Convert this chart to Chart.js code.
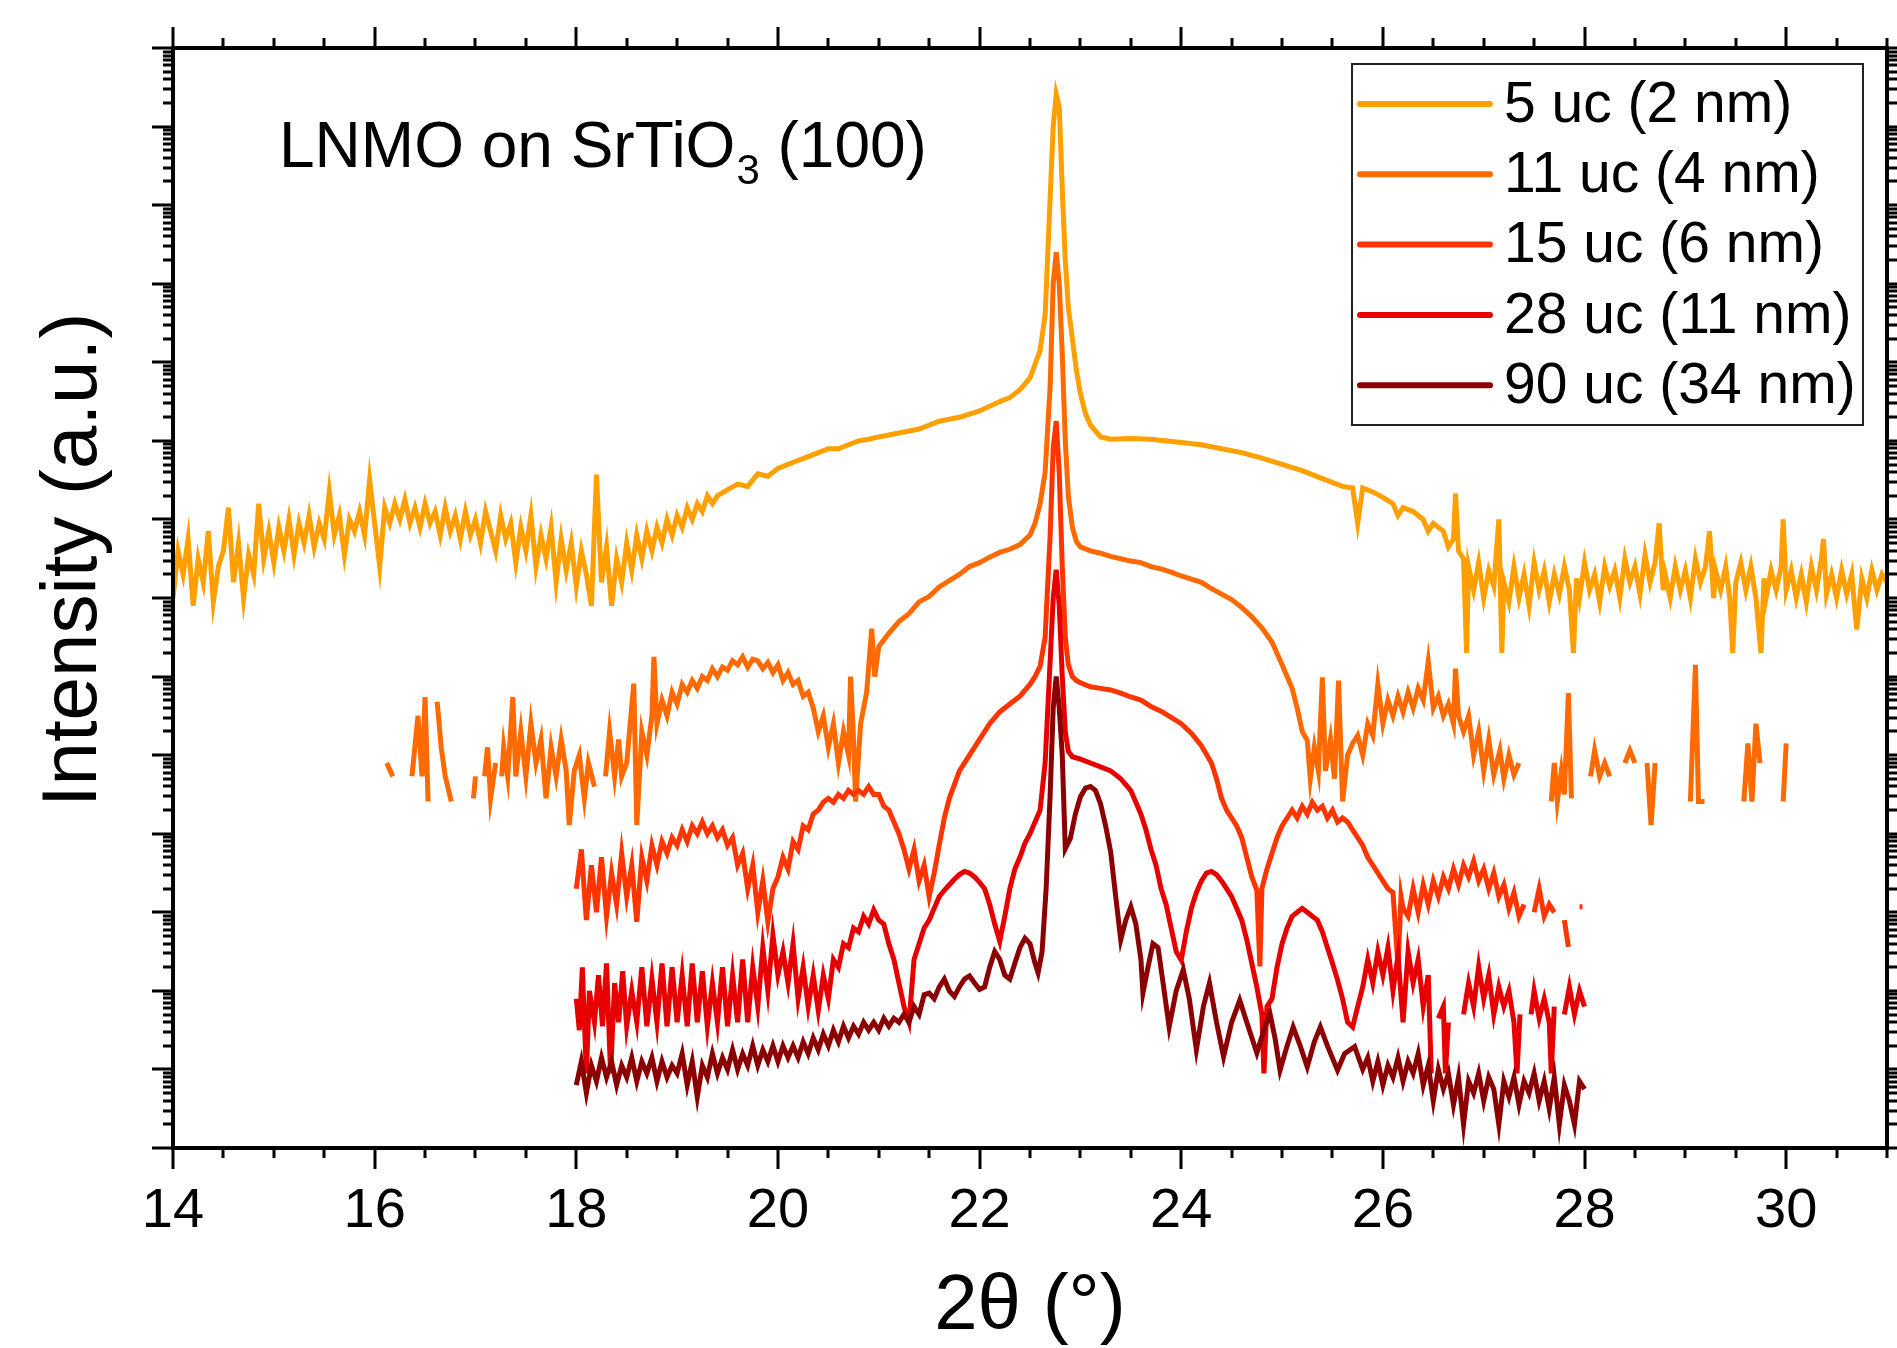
<!DOCTYPE html>
<html>
<head>
<meta charset="utf-8">
<script src="https://cdn.jsdelivr.net/npm/chart.js@4.4.1/dist/chart.umd.min.js"></script>
<style>
  html, body { margin: 0; padding: 0; background: #fff; }
  #wrap { width: 1897px; height: 1348px; position: relative; }
</style>
</head>
<body>
<div id="wrap"><canvas id="xrd"></canvas></div>
<script>
// 2theta (deg) vs log10(intensity)
const labels = ['5 uc (2 nm)', '11 uc (4 nm)', '15 uc (6 nm)', '28 uc (11 nm)', '90 uc (34 nm)'];
const colors = ['#ffa000', '#ff6a00', '#ff3500', '#e60000', '#8b0000'];

const uc5 = [
  [14.0,7.0],[14.05,7.6],[14.1,7.3],[14.15,7.75],[14.2,6.9],[14.25,7.5],[14.3,7.2],[14.35,7.85],[14.4,6.95],[14.45,7.4],
  [14.5,7.6],[14.55,8.15],[14.6,7.2],[14.65,7.7],[14.7,7.0],[14.75,7.55],[14.8,7.3],[14.85,8.2],[14.9,7.5],[14.95,7.85],
  [15.0,7.45],[15.05,7.9],[15.1,7.6],[15.15,8.0],[15.2,7.55],[15.25,7.95],[15.3,7.7],[15.35,8.05],[15.4,7.65],[15.45,7.95],
  [15.5,7.75],[15.55,8.35],[15.6,7.8],[15.65,8.05],[15.7,7.55],[15.75,8.0],[15.8,7.85],[15.85,8.1],[15.9,7.8],[15.95,8.5],
  [16.0,7.95],[16.05,7.4],[16.1,8.15],[16.15,7.95],[16.2,8.2],[16.25,8.0],[16.3,8.25],[16.35,7.95],[16.4,8.15],[16.45,7.9],
  [16.5,8.2],[16.55,7.95],[16.6,8.1],[16.65,7.8],[16.7,8.15],[16.75,7.85],[16.8,8.05],[16.85,7.75],[16.9,8.1],[16.95,7.8],
  [17.0,8.0],[17.05,7.7],[17.1,8.1],[17.15,7.85],[17.2,7.6],[17.25,8.05],[17.3,7.75],[17.35,7.95],[17.4,7.45],[17.45,7.9],
  [17.5,7.6],[17.55,8.05],[17.6,7.4],[17.65,7.8],[17.7,7.5],[17.75,7.9],[17.8,7.2],[17.85,7.75],[17.9,7.35],[17.95,7.7],
  [18.0,7.15],[18.05,7.6],[18.1,7.3],[18.15,6.9],[18.2,8.57],[18.25,7.2],[18.3,7.65],[18.35,6.9],[18.4,7.5],[18.45,7.2],
  [18.5,7.7],[18.55,7.35],[18.6,7.8],[18.65,7.5],[18.7,7.85],[18.75,7.6],[18.8,7.9],[18.85,7.7],[18.9,8.0],[18.95,7.8],
  [19.0,8.05],[19.05,7.9],[19.1,8.15],[19.15,8.0],[19.2,8.2],[19.25,8.1],[19.3,8.3],[19.35,8.2],[19.4,8.3],[19.5,8.38],
  [19.6,8.45],[19.7,8.42],[19.8,8.58],[19.9,8.55],[20.0,8.65],[20.1,8.7],[20.2,8.75],[20.3,8.8],[20.4,8.85],[20.5,8.9],
  [20.6,8.9],[20.7,8.95],[20.8,9.0],[20.9,9.02],[21.0,9.05],[21.2,9.1],[21.4,9.15],[21.6,9.25],[21.8,9.3],[22.0,9.38],
  [22.2,9.5],[22.3,9.55],[22.4,9.65],[22.5,9.8],[22.6,10.15],[22.65,10.6],[22.7,12.1],[22.73,13.0],[22.76,13.41],[22.79,13.25],
  [22.82,12.2],[22.85,11.3],[22.88,10.7],[22.92,10.3],[22.96,9.9],[23.0,9.6],[23.05,9.35],[23.1,9.2],[23.2,9.05],[23.3,9.02],
  [23.5,9.03],[23.7,9.02],[24.0,8.98],[24.2,8.95],[24.4,8.9],[24.6,8.85],[24.8,8.78],[25.0,8.7],[25.2,8.62],[25.4,8.52],
  [25.6,8.42],[25.7,8.4],[25.75,7.95],[25.8,8.4],[25.9,8.35],[26.0,8.28],[26.1,8.2],[26.15,8.05],[26.2,8.15],[26.3,8.1],
  [26.4,8.0],[26.45,7.85],[26.5,7.95],[26.6,7.85],[26.65,7.65],[26.7,7.75],[26.72,8.33],[26.75,7.6],[26.8,7.5],[26.83,6.3],
  [26.85,7.4],[26.9,7.1],[26.95,7.45],[27.0,7.0],[27.05,7.35],[27.1,7.15],[27.15,8.0],[27.18,6.3],[27.2,7.2],[27.25,6.95],
  [27.3,7.4],[27.35,7.0],[27.4,7.3],[27.45,6.9],[27.5,7.45],[27.55,7.1],[27.6,7.35],[27.65,6.95],[27.7,7.3],[27.75,7.05],
  [27.8,7.4],[27.85,7.1],[27.89,6.3],[27.92,7.25],[27.95,7.0],[28.0,7.45],[28.05,7.1],[28.1,7.3],[28.15,6.95],[28.2,7.4],
  [28.25,7.15],[28.3,7.35],[28.35,7.0],[28.4,7.5],[28.45,7.2],[28.5,7.4],[28.55,7.05],[28.6,7.55],[28.65,7.2],[28.7,7.45],
  [28.74,7.95],[28.78,7.1],[28.8,7.3],[28.85,7.0],[28.9,7.4],[28.95,7.1],[29.0,7.35],[29.05,7.0],[29.1,7.5],[29.15,7.2],
  [29.2,7.4],[29.24,7.85],[29.28,7.0],[29.3,7.35],[29.35,7.1],[29.4,7.4],[29.44,7.0],[29.47,6.3],[29.5,7.2],[29.55,7.45],
  [29.6,7.1],[29.65,7.4],[29.7,7.0],[29.75,6.3],[29.78,7.25],[29.8,7.0],[29.85,7.35],[29.9,7.1],[29.95,7.4],[29.97,8.0],
  [30.0,7.1],[30.05,7.35],[30.1,7.0],[30.15,7.3],[30.2,6.95],[30.25,7.4],[30.3,7.1],[30.35,7.5],[30.37,7.75],[30.4,7.05],
  [30.45,7.3],[30.5,7.0],[30.55,7.35],[30.6,7.05],[30.65,7.3],[30.7,6.6],[30.75,7.25],[30.8,7.0],[30.85,7.35],[30.9,7.1],
  [30.95,7.3],[31.0,7.2]
];

const uc11 = [
  [16.12,4.9],[16.18,4.73],[16.22,null],[16.37,4.73],[16.43,5.5],[16.47,4.73],[16.5,5.74],[16.53,4.41],[16.58,null],
  [16.62,5.68],[16.66,5.1],[16.7,4.73],[16.76,4.41],[16.8,null],[16.98,4.45],[17.0,4.73],[17.05,null],[17.09,4.73],
  [17.12,5.1],[17.15,4.45],[17.2,4.9],[17.23,null],[17.26,4.73],[17.28,5.1],[17.32,4.73],[17.37,5.74],[17.4,4.73],
  [17.45,5.3],[17.5,4.73],[17.55,5.4],[17.6,4.9],[17.65,5.2],[17.7,4.45],[17.75,5.1],[17.8,4.73],[17.85,5.2],
  [17.9,4.8],[17.93,4.11],[17.98,4.8],[18.03,5.0],[18.08,4.45],[18.12,4.9],[18.18,4.6],[18.22,null],[18.29,4.73],
  [18.33,5.3],[18.38,4.73],[18.42,5.2],[18.45,4.73],[18.5,4.9],[18.57,5.91],[18.6,4.11],[18.65,5.3],[18.7,5.0],
  [18.75,5.5],[18.77,6.25],[18.8,5.4],[18.85,5.7],[18.9,5.5],[18.95,5.8],[19.0,5.65],[19.05,5.9],[19.1,5.8],
  [19.15,5.95],[19.2,5.85],[19.25,6.0],[19.3,5.95],[19.35,6.1],[19.4,6.0],[19.45,6.12],[19.5,6.08],[19.55,6.2],[19.6,6.15],
  [19.65,6.25],[19.7,6.12],[19.75,6.22],[19.8,6.2],[19.85,6.1],[19.9,6.18],[19.95,6.05],[20.0,6.15],[20.05,5.95],[20.1,6.05],
  [20.15,5.9],[20.2,5.95],[20.25,5.75],[20.3,5.8],[20.35,5.6],[20.4,5.3],[20.45,5.5],[20.5,5.1],[20.55,5.4],
  [20.6,4.9],[20.65,5.3],[20.7,5.0],[20.72,6.0],[20.75,5.2],[20.77,4.41],[20.82,5.4],[20.88,5.8],[20.93,6.61],
  [20.96,6.0],[21.0,6.38],[21.1,6.55],[21.2,6.7],[21.3,6.8],[21.4,6.95],[21.5,7.02],[21.6,7.14],[21.7,7.22],
  [21.8,7.3],[21.9,7.4],[22.0,7.45],[22.1,7.52],[22.2,7.58],[22.3,7.62],[22.4,7.68],[22.5,7.8],[22.55,7.95],
  [22.6,8.2],[22.65,8.6],[22.7,9.7],[22.73,11.0],[22.76,11.4],[22.79,11.0],[22.82,10.1],[22.85,9.0],[22.88,8.3],
  [22.92,7.9],[22.96,7.72],[23.0,7.65],[23.1,7.6],[23.2,7.57],[23.3,7.53],[23.4,7.5],[23.5,7.47],[23.6,7.45],
  [23.7,7.4],[23.8,7.37],[23.9,7.33],[24.0,7.28],[24.1,7.24],[24.2,7.2],[24.3,7.12],[24.4,7.05],[24.5,6.98],
  [24.6,6.88],[24.7,6.76],[24.8,6.62],[24.9,6.44],[25.0,6.15],[25.1,5.85],[25.15,5.6],[25.2,5.3],[25.25,5.19],
  [25.28,4.7],[25.32,5.1],[25.36,4.8],[25.4,5.99],[25.43,4.8],[25.48,5.2],[25.52,4.7],[25.56,5.95],[25.6,4.41],
  [25.65,5.0],[25.7,5.15],[25.75,5.25],[25.8,5.0],[25.85,5.4],[25.9,5.25],[25.95,5.9],[26.0,5.4],[26.05,5.7],
  [26.1,5.5],[26.15,5.75],[26.2,5.55],[26.25,5.8],[26.3,5.6],[26.35,5.85],[26.4,5.7],[26.45,6.19],[26.5,5.6],
  [26.55,5.75],[26.6,5.5],[26.65,5.65],[26.7,5.4],[26.72,6.1],[26.75,5.5],[26.8,5.3],[26.85,5.5],[26.9,5.0],
  [26.95,5.3],[27.0,4.8],[27.05,5.2],[27.1,4.75],[27.16,5.06],[27.2,4.7],[27.25,5.0],[27.3,4.75],[27.35,4.9],
  [27.38,null],[27.67,4.41],[27.7,4.9],[27.73,4.41],[27.77,4.8],[27.8,4.5],[27.84,5.79],[27.87,4.45],[27.9,null],
  [28.06,4.73],[28.1,5.06],[28.15,4.73],[28.2,4.9],[28.25,4.73],[28.3,null],[28.4,4.9],[28.45,5.06],[28.5,4.9],
  [28.55,null],[28.62,4.9],[28.66,4.11],[28.7,4.9],[28.75,null],[28.88,4.73],[28.92,null],[29.05,4.41],[29.1,6.15],
  [29.13,4.41],[29.19,4.41],[29.22,null],[29.58,4.41],[29.62,5.15],[29.66,4.41],[29.7,5.4],[29.74,4.9],[29.77,null],
  [29.97,4.41],[30.0,5.15]
];

const uc15 = [
  [18.0,3.3],[18.05,3.8],[18.1,2.9],[18.15,3.6],[18.2,3.0],[18.25,3.7],[18.3,2.95],[18.35,3.5],[18.4,3.1],[18.45,3.75],
  [18.5,3.2],[18.55,3.6],[18.6,2.88],[18.65,3.7],[18.7,3.4],[18.75,3.85],[18.8,3.6],[18.85,3.9],[18.9,3.75],[18.95,3.95],
  [19.0,3.85],[19.05,4.05],[19.1,3.9],[19.15,4.1],[19.2,4.0],[19.25,4.15],[19.3,4.0],[19.35,4.1],[19.4,3.95],[19.45,4.05],
  [19.5,3.85],[19.55,3.95],[19.6,3.6],[19.65,3.75],[19.7,3.3],[19.75,3.6],[19.8,3.0],[19.85,3.4],[19.9,2.88],[19.95,3.3],
  [20.0,3.45],[20.05,3.7],[20.1,3.55],[20.15,3.9],[20.2,3.8],[20.25,4.1],[20.3,4.05],[20.35,4.25],[20.4,4.3],[20.45,4.4],
  [20.5,4.45],[20.55,4.4],[20.6,4.5],[20.65,4.45],[20.7,4.55],[20.75,4.5],[20.8,4.55],[20.85,4.5],[20.9,4.6],[20.95,4.5],
  [21.0,4.5],[21.05,4.35],[21.1,4.3],[21.15,4.15],[21.2,4.0],[21.25,3.8],[21.3,3.55],[21.35,3.8],[21.4,3.4],[21.45,3.6],
  [21.5,3.2],[21.55,3.5],[21.6,3.86],[21.65,4.2],[21.7,4.45],[21.8,4.8],[21.9,5.0],[22.0,5.2],[22.1,5.4],[22.2,5.55],
  [22.3,5.65],[22.4,5.75],[22.5,5.9],[22.55,6.0],[22.6,6.13],[22.65,6.5],[22.7,7.8],[22.73,8.9],[22.76,9.25],[22.79,8.6],
  [22.82,7.4],[22.85,6.5],[22.88,6.15],[22.92,6.0],[22.96,5.95],[23.0,5.92],[23.1,5.87],[23.2,5.85],[23.3,5.83],[23.4,5.79],
  [23.5,5.74],[23.6,5.7],[23.7,5.62],[23.8,5.56],[23.9,5.48],[24.0,5.4],[24.1,5.28],[24.2,5.12],[24.3,4.9],[24.35,4.7],
  [24.4,4.45],[24.45,4.3],[24.5,4.2],[24.55,4.1],[24.6,3.95],[24.65,3.7],[24.7,3.45],[24.75,3.28],[24.78,2.31],[24.8,3.3],
  [24.85,3.55],[24.9,3.75],[24.95,3.95],[25.0,4.1],[25.05,4.2],[25.1,4.3],[25.15,4.2],[25.2,4.35],[25.25,4.25],[25.3,4.4],
  [25.35,4.3],[25.4,4.35],[25.45,4.2],[25.5,4.3],[25.55,4.15],[25.6,4.2],[25.65,4.15],[25.7,4.05],[25.75,3.95],[25.8,3.85],
  [25.85,3.7],[25.9,3.6],[25.95,3.5],[26.0,3.4],[26.05,3.3],[26.1,3.25],[26.15,2.31],[26.18,3.2],[26.2,3.05],[26.25,2.95],
  [26.3,3.3],[26.35,3.0],[26.4,3.35],[26.45,3.1],[26.5,3.4],[26.55,3.2],[26.6,3.45],[26.65,3.3],[26.7,3.55],[26.75,3.35],
  [26.8,3.6],[26.85,3.45],[26.9,3.65],[26.95,3.4],[27.0,3.55],[27.05,3.3],[27.1,3.5],[27.15,3.2],[27.2,3.35],[27.25,3.05],
  [27.3,3.25],[27.35,2.95],[27.4,3.1],[27.45,null],[27.5,3.0],[27.55,3.3],[27.6,2.95],[27.65,3.1],[27.7,3.0],[27.75,null],
  [27.8,2.9],[27.84,2.56],[27.87,null],[27.95,3.07],[27.98,3.07]
];

const uc28 = [
  [18.0,1.9],[18.03,1.5],[18.06,2.3],[18.1,0.95],[18.13,2.0],[18.18,1.6],[18.22,2.2],[18.26,1.55],[18.3,2.35],[18.34,0.95],
  [18.38,2.1],[18.42,1.6],[18.46,2.25],[18.5,1.55],[18.55,2.0],[18.6,1.6],[18.65,2.3],[18.7,1.55],[18.75,2.15],[18.8,1.6],
  [18.85,2.35],[18.9,1.55],[18.95,2.3],[19.0,1.6],[19.05,2.2],[19.1,1.55],[19.15,2.35],[19.2,1.6],[19.25,2.25],[19.3,1.55],
  [19.35,2.1],[19.4,1.6],[19.45,2.3],[19.5,1.55],[19.55,2.2],[19.6,1.6],[19.65,2.4],[19.7,1.6],[19.75,2.3],[19.8,1.8],
  [19.85,2.55],[19.9,2.0],[19.95,2.71],[20.0,2.2],[20.05,2.5],[20.1,2.1],[20.15,2.6],[20.2,1.9],[20.25,2.3],[20.3,1.8],
  [20.35,2.2],[20.4,1.75],[20.45,2.2],[20.5,1.9],[20.55,2.4],[20.6,2.3],[20.65,2.6],[20.7,2.55],[20.75,2.8],[20.8,2.75],
  [20.85,2.95],[20.9,2.85],[20.95,3.03],[21.0,2.9],[21.05,2.85],[21.1,2.6],[21.15,2.4],[21.2,2.1],[21.25,1.8],[21.3,1.6],
  [21.35,2.4],[21.4,2.6],[21.45,2.8],[21.5,2.9],[21.55,3.05],[21.6,3.2],[21.65,3.28],[21.7,3.35],[21.75,3.42],[21.8,3.48],
  [21.85,3.52],[21.9,3.5],[21.95,3.45],[22.0,3.38],[22.05,3.3],[22.1,3.1],[22.15,2.85],[22.2,2.63],[22.25,2.95],[22.3,3.3],
  [22.35,3.55],[22.4,3.7],[22.45,3.88],[22.5,4.0],[22.55,4.15],[22.6,4.3],[22.65,4.9],[22.7,6.2],[22.73,7.0],[22.76,7.36],
  [22.79,6.9],[22.82,6.0],[22.85,5.3],[22.88,5.05],[22.92,4.98],[23.0,4.95],[23.1,4.9],[23.2,4.85],[23.3,4.8],[23.4,4.7],
  [23.5,4.55],[23.55,4.4],[23.6,4.25],[23.65,4.05],[23.7,3.8],[23.75,3.6],[23.8,3.3],[23.85,3.1],[23.9,2.8],[23.95,2.5],
  [24.0,2.39],[24.05,2.75],[24.1,3.05],[24.15,3.25],[24.2,3.4],[24.25,3.5],[24.3,3.52],[24.35,3.48],[24.4,3.4],[24.45,3.3],
  [24.5,3.2],[24.55,3.05],[24.6,2.9],[24.65,2.65],[24.7,2.35],[24.75,2.05],[24.8,1.7],[24.82,0.95],[24.85,1.8],[24.9,1.9],
  [24.95,2.3],[25.0,2.6],[25.05,2.8],[25.1,2.95],[25.15,3.0],[25.2,3.05],[25.25,3.0],[25.3,2.95],[25.35,2.9],[25.4,2.75],
  [25.45,2.55],[25.5,2.35],[25.55,2.14],[25.6,1.9],[25.65,1.6],[25.7,1.54],[25.75,1.8],[25.8,2.05],[25.85,2.4],[25.9,2.1],
  [25.95,2.5],[26.0,2.2],[26.05,2.55],[26.1,2.0],[26.15,2.45],[26.2,1.6],[26.25,2.5],[26.3,2.1],[26.35,2.4],[26.4,1.8],
  [26.45,2.2],[26.48,0.95],[26.5,null],[26.55,1.65],[26.6,1.8],[26.62,0.95],[26.65,1.6],[26.7,null],[26.8,1.7],[26.85,2.1],
  [26.9,1.8],[26.95,2.31],[27.0,1.9],[27.05,2.2],[27.1,1.7],[27.15,2.05],[27.2,1.8],[27.25,2.0],[27.3,1.6],[27.33,0.95],
  [27.36,1.7],[27.4,null],[27.47,1.7],[27.5,2.0],[27.55,1.65],[27.6,1.9],[27.65,1.6],[27.67,0.95],[27.7,1.8],[27.75,null],
  [27.8,1.7],[27.85,2.05],[27.9,1.7],[27.95,2.0],[28.0,1.8]
];

const uc90 = [
  [18.0,0.8],[18.05,1.1],[18.1,0.7],[18.15,1.05],[18.2,0.85],[18.25,1.15],[18.3,0.9],[18.35,1.1],[18.4,0.8],[18.45,1.05],
  [18.5,0.9],[18.55,1.15],[18.6,0.85],[18.65,1.1],[18.7,0.95],[18.75,1.15],[18.8,0.85],[18.85,1.1],[18.9,0.9],[18.95,1.05],
  [19.0,0.95],[19.05,1.2],[19.1,0.8],[19.15,1.1],[19.2,0.65],[19.25,1.05],[19.3,0.9],[19.35,1.2],[19.4,0.95],[19.45,1.15],
  [19.5,1.0],[19.55,1.25],[19.6,1.0],[19.65,1.2],[19.7,1.05],[19.75,1.3],[19.8,1.05],[19.85,1.25],[19.9,1.1],[19.95,1.3],
  [20.0,1.1],[20.05,1.3],[20.1,1.15],[20.15,1.3],[20.2,1.15],[20.25,1.35],[20.3,1.2],[20.35,1.4],[20.4,1.25],[20.45,1.45],
  [20.5,1.3],[20.55,1.5],[20.6,1.35],[20.65,1.55],[20.7,1.4],[20.75,1.55],[20.8,1.45],[20.85,1.6],[20.9,1.5],[20.95,1.6],
  [21.0,1.5],[21.05,1.65],[21.1,1.55],[21.15,1.65],[21.2,1.6],[21.25,1.7],[21.3,1.6],[21.35,1.8],[21.4,1.7],[21.45,1.95],
  [21.5,1.97],[21.55,1.9],[21.6,2.05],[21.65,2.15],[21.7,2.0],[21.75,1.93],[21.8,2.05],[21.85,2.15],[21.9,2.19],[21.95,2.1],
  [22.0,2.02],[22.05,2.05],[22.1,2.3],[22.15,2.5],[22.2,2.4],[22.25,2.2],[22.3,2.15],[22.35,2.35],[22.4,2.55],[22.45,2.67],
  [22.5,2.6],[22.55,2.35],[22.58,2.23],[22.62,2.5],[22.66,3.3],[22.7,4.5],[22.73,5.6],[22.76,6.0],[22.79,5.6],[22.82,5.0],
  [22.85,3.81],[22.9,3.94],[22.95,4.25],[23.0,4.47],[23.05,4.58],[23.1,4.6],[23.15,4.55],[23.2,4.38],[23.25,4.1],[23.3,3.77],
  [23.35,3.2],[23.4,2.65],[23.45,2.9],[23.5,3.07],[23.55,2.85],[23.6,2.4],[23.62,1.97],[23.67,2.3],[23.72,2.6],[23.77,2.55],
  [23.82,2.1],[23.88,1.54],[23.95,2.0],[24.02,2.27],[24.08,1.9],[24.15,1.25],[24.22,1.8],[24.28,2.1],[24.35,1.6],[24.42,1.16],
  [24.5,1.6],[24.58,1.88],[24.65,1.6],[24.75,1.21],[24.82,1.5],[24.88,1.71],[24.93,1.4],[24.98,0.99],[25.05,1.3],[25.11,1.54],
  [25.18,1.3],[25.25,1.03],[25.32,1.35],[25.38,1.54],[25.45,1.3],[25.55,0.99],[25.62,1.2],[25.72,1.29],[25.8,1.0],[25.85,1.15],
  [25.9,0.85],[25.95,1.1],[26.0,0.8],[26.05,1.05],[26.1,0.9],[26.15,1.15],[26.2,0.85],[26.25,1.1],[26.3,0.95],[26.35,1.2],
  [26.4,0.8],[26.45,1.05],[26.5,0.6],[26.55,1.0],[26.6,0.75],[26.65,0.95],[26.7,0.55],[26.75,0.9],[26.8,0.3],[26.85,0.85],
  [26.9,0.7],[26.95,0.95],[27.0,0.6],[27.05,0.9],[27.1,0.75],[27.15,0.3],[27.2,0.85],[27.25,0.65],[27.3,0.9],[27.35,0.55],
  [27.4,0.85],[27.45,0.7],[27.5,0.95],[27.55,0.6],[27.6,0.85],[27.65,0.5],[27.7,0.9],[27.75,0.3],[27.8,0.8],[27.85,0.6],
  [27.9,0.3],[27.95,0.85],[28.0,0.75]
];

const xMin = 14, xMax = 31;
const xTickLabels = [14, 16, 18, 20, 22, 24, 26, 28, 30];
const xMinorStep = 0.5;
const yDecades = [0, 14]; // 10^0 .. 10^14, unlabelled

const series = [uc5, uc11, uc15, uc28, uc90];

// axis frame, tick marks, legend box and the sample label
const decorations = {
  id: 'decorations',
  afterDraw(chart) {
    const { ctx, chartArea: a, scales: { x, y } } = chart;
    ctx.save();
    ctx.strokeStyle = '#000';
    ctx.lineCap = 'butt';

    // x ticks, bottom (out) and top (out)
    ctx.lineWidth = 3;
    for (let v = xMin; v <= xMax + 1e-9; v += xMinorStep) {
      const major = xTickLabels.includes(v);
      const len = major ? 21 : 10;
      const px = Math.round(x.getPixelForValue(v));
      ctx.beginPath();
      ctx.moveTo(px, a.bottom); ctx.lineTo(px, a.bottom + len);
      ctx.moveTo(px, a.top); ctx.lineTo(px, a.top - len);
      ctx.stroke();
    }

    // y ticks, left (out) and right (out), log decades with minors
    for (let n = yDecades[0]; n <= yDecades[1]; n++) {
      const py = Math.round(y.getPixelForValue(Math.pow(10, n)));
      ctx.lineWidth = 3;
      ctx.beginPath();
      ctx.moveTo(a.left - 21, py); ctx.lineTo(a.left, py);
      ctx.moveTo(a.right, py); ctx.lineTo(a.right + 21, py);
      ctx.stroke();
      if (n === yDecades[1]) break;
      ctx.lineWidth = 3;
      for (let m = 2; m <= 9; m++) {
        const pm = Math.round(y.getPixelForValue(m * Math.pow(10, n)));
        ctx.beginPath();
        ctx.moveTo(a.left - 10, pm); ctx.lineTo(a.left, pm);
        ctx.moveTo(a.right, pm); ctx.lineTo(a.right + 10, pm);
        ctx.stroke();
      }
    }

    // frame
    ctx.lineWidth = 4;
    ctx.strokeRect(a.left, a.top, a.right - a.left, a.bottom - a.top);

    // y axis title
    ctx.fillStyle = '#000';
    ctx.save();
    ctx.translate(74, 560);
    ctx.rotate(-Math.PI / 2);
    ctx.font = '78px "Liberation Sans", Arial, sans-serif';
    ctx.textAlign = 'center';
    ctx.textBaseline = 'middle';
    ctx.fillText('Intensity (a.u.)', 0, 0);
    ctx.restore();

    // sample label with subscript
    ctx.textAlign = 'left';
    ctx.textBaseline = 'alphabetic';
    let tx = 279;
    ctx.font = '64px "Liberation Sans", Arial, sans-serif';
    ctx.fillText('LNMO on SrTiO', tx, 167);
    tx += ctx.measureText('LNMO on SrTiO').width;
    ctx.font = '42px "Liberation Sans", Arial, sans-serif';
    ctx.fillText('3', tx + 1, 184);
    tx += ctx.measureText('3').width + 1;
    ctx.font = '64px "Liberation Sans", Arial, sans-serif';
    ctx.fillText(' (100)', tx, 167);

    // legend
    const lx = 1352, ly = 64, lw = 511, lh = 361;
    ctx.fillStyle = '#fff';
    ctx.fillRect(lx, ly, lw, lh);
    ctx.strokeStyle = '#222';
    ctx.lineWidth = 2;
    ctx.strokeRect(lx, ly, lw, lh);
    ctx.font = '57px "Liberation Sans", Arial, sans-serif';
    ctx.textBaseline = 'middle';
    chart.data.datasets.forEach((ds, i) => {
      const ry = 104 + i * 70.3;
      ctx.strokeStyle = ds.borderColor;
      ctx.lineWidth = 6;
      ctx.lineCap = 'round';
      ctx.beginPath();
      ctx.moveTo(1360, ry); ctx.lineTo(1490, ry);
      ctx.stroke();
      ctx.fillStyle = '#000';
      ctx.fillText(ds.label, 1504, ry + 2);
    });
    ctx.restore();
  }
};

new Chart(document.getElementById('xrd'), {
  type: 'line',
  data: {
    datasets: series.map((s, i) => ({
      label: labels[i],
      data: s.map(([x, v]) => ({ x: x, y: v === null ? null : Math.pow(10, v) })),
      borderColor: colors[i],
      backgroundColor: colors[i],
      borderWidth: 5,
      borderJoinStyle: 'miter',
      pointRadius: 0,
      tension: 0,
      spanGaps: false,
      order: series.length - i
    }))
  },
  options: {
    responsive: true,
    maintainAspectRatio: false,
    animation: false,
    layout: { padding: { left: 0, top: 48, right: 10, bottom: 0 } },
    plugins: {
      legend: { display: false },
      tooltip: { enabled: false }
    },
    scales: {
      x: {
        type: 'linear',
        min: xMin,
        max: xMax,
        grid: { display: false, drawTicks: false },
        border: { display: false },
        afterBuildTicks: (scale) => { scale.ticks = xTickLabels.map(v => ({ value: v })); },
        afterFit: (scale) => { scale.height = 200; },
        ticks: {
          color: '#000',
          padding: 30,
          maxRotation: 0,
          font: { family: '"Liberation Sans", Arial, sans-serif', size: 56 }
        },
        title: {
          display: true,
          text: '2θ (°)',
          color: '#000',
          padding: { top: 0, bottom: -6 },
          font: { family: '"Liberation Sans", Arial, sans-serif', size: 78 }
        }
      },
      y: {
        type: 'logarithmic',
        min: Math.pow(10, yDecades[0]),
        max: Math.pow(10, yDecades[1]),
        grid: { display: false, drawTicks: false },
        border: { display: false },
        ticks: { display: false },
        afterFit: (scale) => { scale.width = 173; }
      }
    }
  },
  plugins: [decorations]
});
</script>
</body>
</html>
